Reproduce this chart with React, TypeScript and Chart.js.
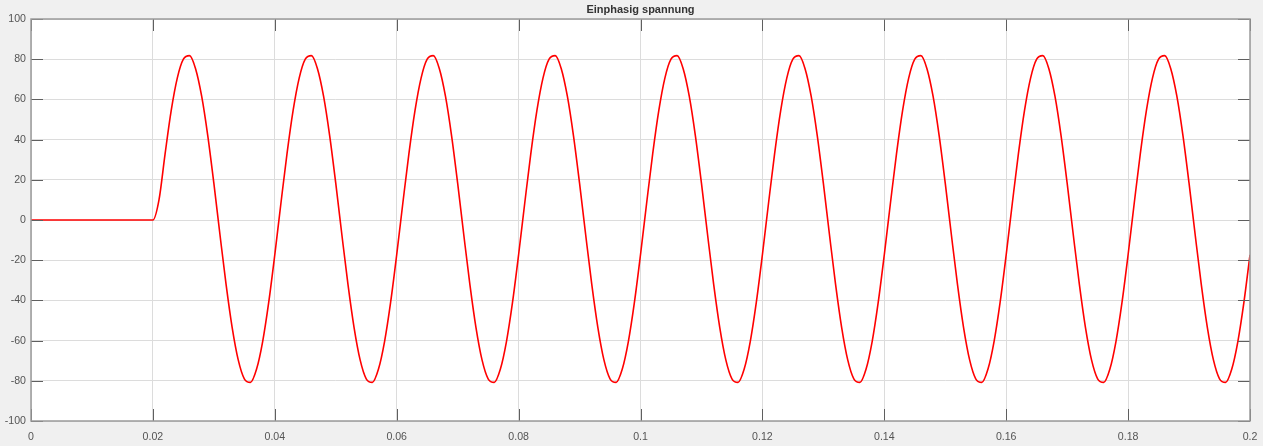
import { useEffect, useRef } from 'react';
import { Chart, registerables } from 'chart.js';

Chart.register(...registerables);

const chartTitle = 'Einphasig spannung';

// sample times in seconds
const sampleTimes = [
  0, 0.02,
  0.021, 0.022, 0.023, 0.024, 0.025, 0.026, 0.027, 0.028, 0.029, 0.03,
  0.031, 0.032, 0.033, 0.034, 0.035, 0.036, 0.037, 0.038, 0.039, 0.04,
  0.041, 0.042, 0.043, 0.044, 0.045, 0.046, 0.047, 0.048, 0.049, 0.05,
  0.051, 0.052, 0.053, 0.054, 0.055, 0.056, 0.057, 0.058, 0.059, 0.06,
  0.061, 0.062, 0.063, 0.064, 0.065, 0.066, 0.067, 0.068, 0.069, 0.07,
  0.071, 0.072, 0.073, 0.074, 0.075, 0.076, 0.077, 0.078, 0.079, 0.08,
  0.081, 0.082, 0.083, 0.084, 0.085, 0.086, 0.087, 0.088, 0.089, 0.09,
  0.091, 0.092, 0.093, 0.094, 0.095, 0.096, 0.097, 0.098, 0.099, 0.1,
  0.101, 0.102, 0.103, 0.104, 0.105, 0.106, 0.107, 0.108, 0.109, 0.11,
  0.111, 0.112, 0.113, 0.114, 0.115, 0.116, 0.117, 0.118, 0.119, 0.12,
  0.121, 0.122, 0.123, 0.124, 0.125, 0.126, 0.127, 0.128, 0.129, 0.13,
  0.131, 0.132, 0.133, 0.134, 0.135, 0.136, 0.137, 0.138, 0.139, 0.14,
  0.141, 0.142, 0.143, 0.144, 0.145, 0.146, 0.147, 0.148, 0.149, 0.15,
  0.151, 0.152, 0.153, 0.154, 0.155, 0.156, 0.157, 0.158, 0.159, 0.16,
  0.161, 0.162, 0.163, 0.164, 0.165, 0.166, 0.167, 0.168, 0.169, 0.17,
  0.171, 0.172, 0.173, 0.174, 0.175, 0.176, 0.177, 0.178, 0.179, 0.18,
  0.181, 0.182, 0.183, 0.184, 0.185, 0.186, 0.187, 0.188, 0.189, 0.19,
  0.191, 0.192, 0.193, 0.194, 0.195, 0.196, 0.197, 0.198, 0.199, 0.2,
];

// voltage
const voltage = [
  0, 0,
  10, 32.9, 54.4, 70.6, 80.0, 81.8, 75.3, 61.6, 42.0, 18.3,
  -7.2, -31.9, -53.4, -69.6, -79.0, -80.8, -74.3, -60.6, -41.0, -17.3,
  8.2, 32.9, 54.4, 70.6, 80.0, 81.8, 75.3, 61.6, 42.0, 18.3,
  -7.2, -31.9, -53.4, -69.6, -79.0, -80.8, -74.3, -60.6, -41.0, -17.3,
  8.2, 32.9, 54.4, 70.6, 80.0, 81.8, 75.3, 61.6, 42.0, 18.3,
  -7.2, -31.9, -53.4, -69.6, -79.0, -80.8, -74.3, -60.6, -41.0, -17.3,
  8.2, 32.9, 54.4, 70.6, 80.0, 81.8, 75.3, 61.6, 42.0, 18.3,
  -7.2, -31.9, -53.4, -69.6, -79.0, -80.8, -74.3, -60.6, -41.0, -17.3,
  8.2, 32.9, 54.4, 70.6, 80.0, 81.8, 75.3, 61.6, 42.0, 18.3,
  -7.2, -31.9, -53.4, -69.6, -79.0, -80.8, -74.3, -60.6, -41.0, -17.3,
  8.2, 32.9, 54.4, 70.6, 80.0, 81.8, 75.3, 61.6, 42.0, 18.3,
  -7.2, -31.9, -53.4, -69.6, -79.0, -80.8, -74.3, -60.6, -41.0, -17.3,
  8.2, 32.9, 54.4, 70.6, 80.0, 81.8, 75.3, 61.6, 42.0, 18.3,
  -7.2, -31.9, -53.4, -69.6, -79.0, -80.8, -74.3, -60.6, -41.0, -17.3,
  8.2, 32.9, 54.4, 70.6, 80.0, 81.8, 75.3, 61.6, 42.0, 18.3,
  -7.2, -31.9, -53.4, -69.6, -79.0, -80.8, -74.3, -60.6, -41.0, -17.3,
  8.2, 32.9, 54.4, 70.6, 80.0, 81.8, 75.3, 61.6, 42.0, 18.3,
  -7.2, -31.9, -53.4, -69.6, -79.0, -80.8, -74.3, -60.6, -41.0, -17.3,
];

const xRange = [0, 0.2];
const xStep = 0.02;
const yRange = [-100, 100];
const yStep = 20;

const FONT = '"Liberation Sans", Arial, Helvetica, sans-serif';

// white plot area, box and inward ticks like a scope window
const scopeFrame = {
  id: 'scopeFrame',
  beforeDraw(chart: any) {
    const { ctx, chartArea: a } = chart;
    ctx.save();
    ctx.fillStyle = '#ffffff';
    ctx.fillRect(a.left, a.top, a.right - a.left, a.bottom - a.top);
    ctx.restore();
  },
  afterDraw(chart: any) {
    const { ctx, chartArea: a, scales } = chart;
    const len = 12;
    ctx.save();
    ctx.strokeStyle = '#5f5f5f';
    ctx.lineWidth = 1;
    ctx.beginPath();
    scales.x.ticks.forEach((t: any) => {
      const px = Math.round(scales.x.getPixelForValue(t.value)) + 0.5;
      ctx.moveTo(px, a.top);
      ctx.lineTo(px, a.top + len);
      ctx.moveTo(px, a.bottom);
      ctx.lineTo(px, a.bottom - len);
    });
    scales.y.ticks.forEach((t: any) => {
      const py = Math.round(scales.y.getPixelForValue(t.value)) + 0.5;
      ctx.moveTo(a.left, py);
      ctx.lineTo(a.left + len, py);
      ctx.moveTo(a.right, py);
      ctx.lineTo(a.right - len, py);
    });
    ctx.stroke();
    ctx.strokeStyle = '#9a9a9a';
    ctx.lineWidth = 1.5;
    ctx.strokeRect(a.left, a.top, a.right - a.left, a.bottom - a.top);
    ctx.restore();
  },
};

function ScopeChart() {
  const canvasRef = useRef<HTMLCanvasElement>(null);
  const chartRef = useRef<Chart | null>(null);

  useEffect(() => {
    if (chartRef.current) {
      chartRef.current.destroy();
    }
    if (!canvasRef.current) return;

    const points = sampleTimes.map((t, i) => ({ x: t, y: voltage[i] }));

    chartRef.current = new Chart(canvasRef.current, {
      type: 'line',
      data: {
        datasets: [
          {
            data: points,
            borderColor: '#ff0000',
            borderWidth: 1.6,
            pointRadius: 0,
            cubicInterpolationMode: 'monotone',
          },
        ],
      },
      options: {
        responsive: false,
        animation: false,
        layout: { padding: { left: 0, right: 13, top: 0, bottom: 0 } },
        plugins: {
          legend: { display: false },
          tooltip: { enabled: false },
          title: {
            display: true,
            text: chartTitle,
            fullSize: false,
            color: '#333333',
            font: { family: FONT, size: 11, weight: 'bold', lineHeight: 1.2 },
            padding: { top: 3, bottom: 2.8 },
          },
        },
        scales: {
          x: {
            type: 'linear',
            min: xRange[0],
            max: xRange[1],
            afterFit: (s: any) => {
              s.height = 25;
              s.paddingLeft = 0;
              s.paddingRight = 0;
            },
            grid: { color: '#dcdcdc', drawTicks: false },
            border: { display: false },
            ticks: {
              stepSize: xStep,
              padding: 10,
              color: '#555555',
              font: { family: FONT, size: 10.6 },
              maxRotation: 0,
              callback: (v: any) => String(Number(Number(v).toFixed(2))),
            },
          },
          y: {
            min: yRange[0],
            max: yRange[1],
            afterFit: (s: any) => {
              s.width = 31;
              s.paddingTop = 0;
              s.paddingBottom = 0;
            },
            grid: { color: '#dcdcdc', drawTicks: false },
            border: { display: false },
            ticks: {
              stepSize: yStep,
              padding: 5,
              color: '#555555',
              font: { family: FONT, size: 10.6 },
            },
          },
        },
      },
      plugins: [scopeFrame],
    });

    return () => {
      if (chartRef.current) {
        chartRef.current.destroy();
        chartRef.current = null;
      }
    };
  }, []);

  return <canvas ref={canvasRef} width={1263} height={446} />;
}

export default function App() {
  return (
    <div
      style={{
        position: 'fixed',
        left: 0,
        top: 0,
        width: 1263,
        height: 446,
        background: '#f0f0f0',
      }}
    >
      <ScopeChart />
    </div>
  );
}
